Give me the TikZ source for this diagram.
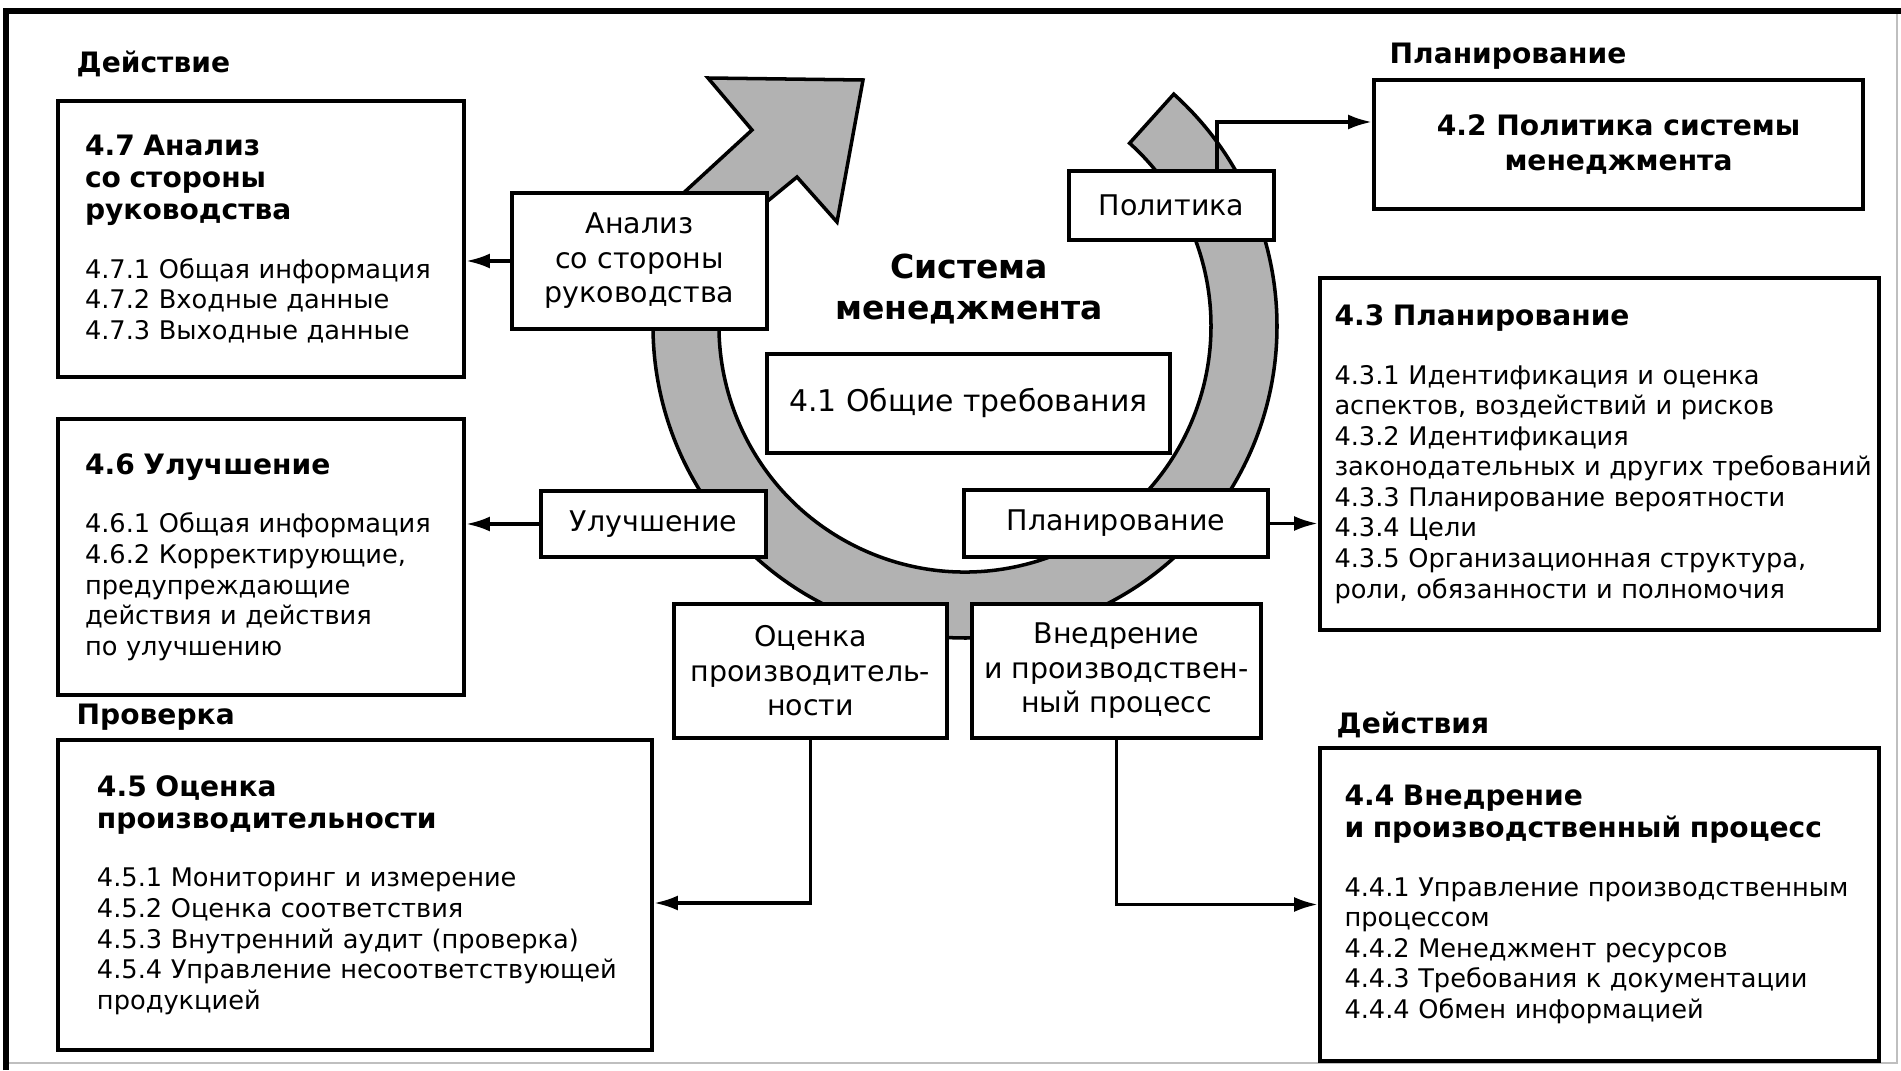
\documentclass[tikz,border=0pt]{standalone}
\usepackage{fontspec}
\setmainfont{DejaVu Sans}
\usetikzlibrary{arrows.meta,calc}

\newcommand{\boxtitle}[1]{{\fontsize{8}{9.1}\selectfont\bfseries #1\par}\vspace{8pt}}

\begin{document}
\begin{tikzpicture}
    % Define styles
    \tikzset{
        boxline/.style={
            draw,
            line width=1.1pt,
            fill=white
        },
        bigbox/.style={
            boxline,
            align=left,
            font=\fontsize{7.3}{8.7}\selectfont
        },
        smallbox/.style={
            boxline,
            align=center,
            font=\fontsize{8.1}{9.8}\selectfont
        },
        phase/.style={
            anchor=west,
            inner sep=0pt,
            font=\fontsize{8}{9.6}\selectfont\bfseries
        },
        ring/.style={
            draw,
            line width=1pt,
            fill=black!30
        },
        link/.style={
            line width=1pt,
            -{Latex[length=2.4mm,width=1.5mm]}
        }
    }
    \useasboundingbox (0,0) rectangle (19.01,10.70);

    % Outer frame
    \draw[black!25] (18.97,10.59) -- (18.97,0.07) -- (0.06,0.07);
    \draw[line width=1.6pt] (0.06,0) -- (0.06,10.59) -- (19.01,10.59);

    % Cycle ring
    \coordinate (C) at (9.65,7.44);
    \path[ring] ($(C)+(48:3.12)$) arc[start angle=48, end angle=-205, radius=3.12]
        -- (7.52,9.40) -- (7.08,9.92) -- (8.63,9.90) -- (8.37,8.48) -- (7.97,8.93)
        -- ($(C)+(-205:2.46)$) arc[start angle=-205, end angle=48, radius=2.46] -- cycle;

    % Centre
    \node[font=\fontsize{9.4}{11.4}\selectfont\bfseries, align=center] (sys) at (9.69,7.81) {Система\\менеджмента};
    \node[smallbox, font=\fontsize{8.5}{10}\selectfont, minimum width=4.03cm, minimum height=0.99cm] (gen) at (9.685,6.665) {4.1 Общие требования};

    % Cycle stages
    \node[smallbox, minimum width=2.55cm, minimum height=1.36cm] (anal) at (6.395,8.09) {Анализ\\со стороны\\руководства};
    \node[smallbox, minimum width=2.05cm, minimum height=0.69cm] (pol) at (11.715,8.645) {Политика};
    \node[smallbox, minimum width=2.25cm, minimum height=0.66cm] (impr) at (6.535,5.46) {Улучшение};
    \node[smallbox, minimum width=3.04cm, minimum height=0.67cm] (plan) at (11.16,5.465) {Планирование};
    \node[smallbox, minimum width=2.73cm, minimum height=1.34cm] (eval) at (8.105,3.99) {Оценка\\производитель-\\ности};
    \node[smallbox, minimum width=2.89cm, minimum height=1.34cm] (impl) at (11.165,3.99) {Внедрение\\и производствен-\\ный процесс};

    % Left column
    \node[phase] (act) at (0.76,10.06) {Действие};
    \node[bigbox, minimum width=4.06cm, minimum height=2.76cm, text width=3.52cm] (p47) at (2.61,8.31) {
        \boxtitle{4.7 Анализ\\со стороны\\руководства}
        4.7.1 Общая информация\\
        4.7.2 Входные данные\\
        4.7.3 Выходные данные};
    \node[bigbox, minimum width=4.06cm, minimum height=2.76cm, text width=3.52cm] (p46) at (2.61,5.13) {
        \boxtitle{4.6 Улучшение}
        4.6.1 Общая информация\\
        4.6.2 Корректирующие,\\
        предупреждающие\\
        действия и действия\\
        по улучшению};
    \node[phase] (chk) at (0.76,3.53) {Проверка};
    \node[bigbox, minimum width=5.94cm, minimum height=3.10cm, text width=5.16cm] (p45) at (3.55,1.75) {
        \boxtitle{4.5 Оценка\\производительности}
        4.5.1 Мониторинг и измерение\\
        4.5.2 Оценка соответствия\\
        4.5.3 Внутренний аудит (проверка)\\
        \mbox{4.5.4 Управление несоответствующей}\\
        продукцией};

    % Right column
    \node[phase] (pln) at (13.89,10.14) {Планирование};
    \node[boxline, align=center, font=\fontsize{8}{10}\selectfont\bfseries, minimum width=4.89cm, minimum height=1.29cm] (p42) at (16.185,9.255) {4.2 Политика системы\\менеджмента};
    \node[bigbox, minimum width=5.59cm, minimum height=3.52cm, text width=5.3cm] (p43) at (15.995,6.16) {
        \boxtitle{4.3 Планирование}
        4.3.1 Идентификация и оценка\\
        аспектов, воздействий и рисков\\
        4.3.2 Идентификация\\
        \mbox{законодательных и других требований}\\
        4.3.3 Планирование вероятности\\
        4.3.4 Цели\\
        4.3.5 Организационная структура,\\
        роли, обязанности и полномочия};
    \node[phase] (dos) at (13.36,3.45) {Действия};
    \node[bigbox, minimum width=5.59cm, minimum height=3.13cm, text width=5.1cm] (p44) at (15.995,1.655) {
        \boxtitle{4.4 Внедрение\\и производственный процесс}
        \mbox{4.4.1 Управление производственным}\\
        процессом\\
        4.4.2 Менеджмент ресурсов\\
        4.4.3 Требования к документации\\
        4.4.4 Обмен информацией};

    % Connectors
    \draw[link] (anal.west) -- (anal.west -| p47.east);
    \draw[link] (impr.west) -- (impr.west -| p46.east);
    \draw[link] (plan.east) -- (plan.east -| p43.west);
    \draw[link] ([xshift=4.55mm]pol.north) |- ([yshift=2.25mm]p42.west);
    \draw[link] (eval.south) |- ([yshift=-0.8mm]p45.east);
    \draw[link] (impl.south) |- (p44.west);

\end{tikzpicture}
\end{document}
